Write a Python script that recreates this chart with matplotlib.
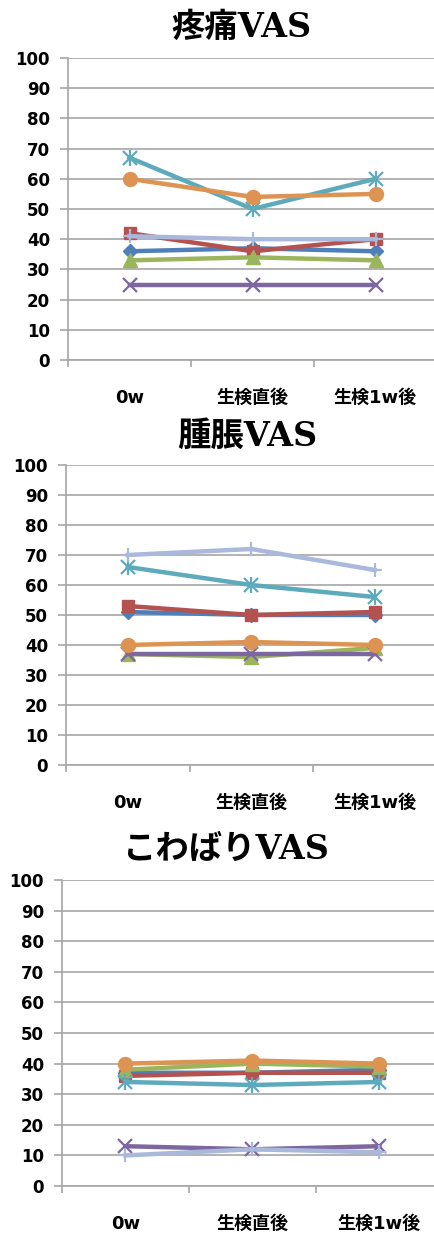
import matplotlib
matplotlib.use("Agg")
import matplotlib.pyplot as plt
import numpy as np

# categories and series (7 patients per chart)
categories = ["0w", "生検直後", "生検1w後"]
titles = ["疼痛VAS", "腫脹VAS", "こわばりVAS"]

pain_vals = [
    [36, 37, 36],   # blue diamond
    [42, 36, 40],   # red square
    [33, 34, 33],   # green triangle
    [25, 25, 25],   # purple x
    [67, 50, 60],   # aqua star
    [60, 54, 55],   # orange circle
    [41, 40, 40],   # light blue plus
]
swell_vals = [
    [51, 50, 50],
    [53, 50, 51],
    [37, 36, 39],
    [37, 37, 37],
    [66, 60, 56],
    [40, 41, 40],
    [70, 72, 65],
]
stiff_vals = [
    [37, 37, 38],
    [36, 37, 37],
    [38, 40, 39],
    [13, 12, 13],
    [34, 33, 34],
    [40, 41, 40],
    [10, 12, 11],
]

colors = ["#4f7fb8", "#b3524f", "#9bb55c", "#7d67a0", "#5eaabd", "#dd9452", "#a9b8db"]
markers = ["D", "s", "^", "x", "x", "o", "+"]
msizes = [7, 9, 10, 10, 10, 10, 10]

# axes boxes in pixels: left, y of value 100, y of value 0, category spacing
W, H = 435, 1233
boxes = [(68, 58, 360, 123), (66, 465, 765, 123.5), (62, 880, 1186, 127)]
title_xy = [(241, 27), (247, 436), (226, 849)]

fig = plt.figure(figsize=(W / 100, H / 100), dpi=100)
jp = ["DejaVu Sans", "Noto Sans CJK JP"]

for vals, title, (lx, ty, by, sp), (tx, tty) in zip([pain_vals, swell_vals, stiff_vals], titles, boxes, title_xy):
    ax = fig.add_axes([lx / W, 1 - by / H, 3 * sp / W, (by - ty) / H])
    x = np.arange(len(categories))
    for i, s in enumerate(vals):
        mk = markers[i]
        ax.plot(x, s, color=colors[i], lw=3.2, marker=mk, ms=msizes[i],
                mew=1.6 if mk in ("x", "+") else 1, mec=colors[i], solid_joinstyle="round",
                clip_on=False, zorder=3 + i)
        if i == 4:
            ax.plot(x, s, ls="none", marker="|", ms=12, mew=1.6, color=colors[i],
                    clip_on=False, zorder=3 + i)
    ax.set_xlim(-0.5, 2.5)
    ax.set_ylim(0, 100)
    ax.set_yticks(range(0, 101, 10))
    ax.set_xticks([-0.5, 0.5, 1.5, 2.5])
    ax.set_xticklabels([])
    ax.set_xticks(x, minor=True)
    ax.set_xticklabels(categories, minor=True, family=jp, fontsize=13, fontweight="bold")
    ax.tick_params(axis="x", which="minor", length=0, pad=21)
    ax.tick_params(axis="x", which="major", length=5, width=1.2, color="#a6a6a6", direction="out")
    ax.tick_params(axis="y", length=6, width=1.2, color="#a6a6a6", pad=7, labelsize=12)
    for lab in ax.get_yticklabels():
        lab.set_fontweight("bold")
    ax.grid(axis="y", color="#a6a6a6", lw=1.2)
    ax.set_axisbelow(True)
    for side in ("top", "right"):
        ax.spines[side].set_visible(False)
    for side in ("left", "bottom"):
        ax.spines[side].set_color("#a6a6a6")
        ax.spines[side].set_linewidth(1.2)
    fig.text(tx / W, 1 - tty / H, title, ha="center", va="center", fontsize=24,
             fontweight="bold", family=["DejaVu Serif", "Noto Sans CJK JP"])

fig.savefig("out.png", dpi=100)
